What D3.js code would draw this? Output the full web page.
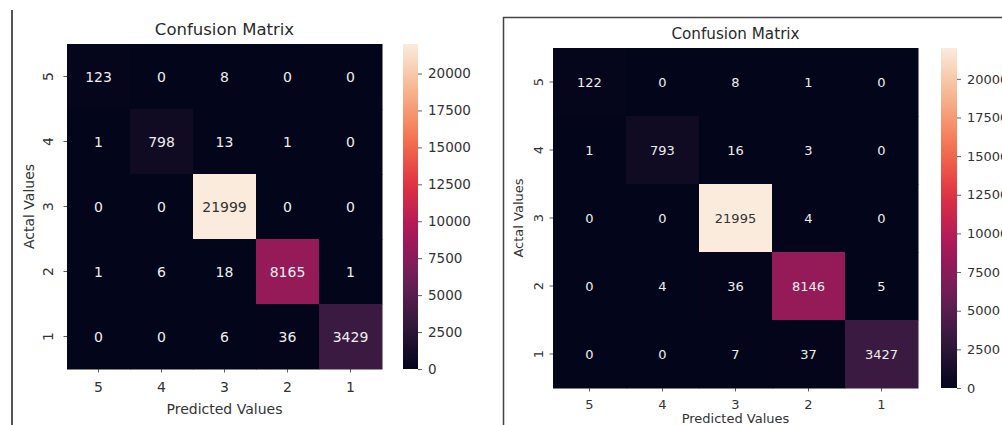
<!DOCTYPE html>
<html>
<head>
<meta charset="utf-8">
<script src="https://cdn.jsdelivr.net/npm/d3@7"></script>
<style>
  html, body { margin: 0; padding: 0; background: #fff; }
  svg { display: block; font-family: "DejaVu Sans", sans-serif; }
</style>
</head>
<body>
<svg id="chart" width="1002" height="425"></svg>
<script>
// Class labels, in display order (rows = actual, columns = predicted)
const classes = ["5", "4", "3", "2", "1"];

// Confusion matrix counts, first model
const matrixA = [
  [123, 0, 8, 0, 0],
  [1, 798, 13, 1, 0],
  [0, 0, 21999, 0, 0],
  [1, 6, 18, 8165, 1],
  [0, 0, 6, 36, 3429]
];

// Confusion matrix counts, second model
const matrixB = [
  [122, 0, 8, 1, 0],
  [1, 793, 16, 3, 0],
  [0, 0, 21995, 4, 0],
  [0, 4, 36, 8146, 5],
  [0, 0, 7, 37, 3427]
];

const colorbarTicks = [0, 2500, 5000, 7500, 10000, 12500, 15000, 17500, 20000];

const titleText = "Confusion Matrix";
const xLabelText = "Predicted Values";
const yLabelText = "Actal Values";

// "rocket" sequential colormap stops
const rocketStops = ["#03051a", "#35193e", "#701f57", "#ad1759", "#e13342", "#f37651", "#f6b48f", "#faebdd"];
const rocket = d3.piecewise(d3.interpolateRgb, rocketStops);

const svg = d3.select("#chart");

// Panel frames
svg.append("line")
  .attr("x1", 12).attr("x2", 12).attr("y1", 10).attr("y2", 425)
  .attr("stroke", "#555").attr("stroke-width", 2);
svg.append("path")
  .attr("d", "M503.5,425 V17.5 H1002")
  .attr("fill", "none").attr("stroke", "#444").attr("stroke-width", 1.5);

const panels = [
  {
    id: "a", data: matrixA,
    x0: 67, x1: 382, y0: 44, y1: 369,
    cbX: 403, cbW: 15, cbTop: 44, cbBottom: 369,
    font: 14, cbFont: 13.5, titleSize: 16.5, titleY: 35,
    xTickY: 392, xLabelY: 414, yTickX: 53, yLabelX: 34
  },
  {
    id: "b", data: matrixB,
    x0: 553, x1: 918, y0: 48, y1: 388,
    cbX: 941, cbW: 16, cbTop: 48, cbBottom: 388,
    font: 13, cbFont: 13, titleSize: 15.2, titleY: 39,
    xTickY: 409, xLabelY: 423, yTickX: 543, yLabelX: 523
  }
];

panels.forEach(p => {
  const g = svg.append("g");
  const maxVal = d3.max(p.data.flat());
  const minVal = d3.min(p.data.flat());
  const color = d3.scaleSequential(rocket).domain([minVal, maxVal]);

  const x = d3.scaleBand().domain(classes).range([p.x0, p.x1]);
  const y = d3.scaleBand().domain(classes).range([p.y0, p.y1]);

  const cells = [];
  p.data.forEach((row, i) => row.forEach((v, j) => cells.push({ r: classes[i], c: classes[j], v })));

  g.selectAll("rect.cell").data(cells).join("rect")
    .attr("class", "cell")
    .attr("x", d => x(d.c))
    .attr("y", d => y(d.r))
    .attr("width", x.bandwidth() + 0.5)
    .attr("height", y.bandwidth() + 0.5)
    .attr("fill", d => color(d.v));

  g.selectAll("text.val").data(cells).join("text")
    .attr("class", "val")
    .attr("x", d => x(d.c) + x.bandwidth() / 2)
    .attr("y", d => y(d.r) + y.bandwidth() / 2)
    .attr("text-anchor", "middle")
    .attr("dominant-baseline", "central")
    .attr("font-size", p.font)
    .attr("fill", d => {
      const l = d3.hsl(color(d.v)).l;
      return l > 0.6 ? "#333" : "#eeeeee";
    })
    .text(d => d.v);

  // x ticks
  classes.forEach(c => {
    const cx = x(c) + x.bandwidth() / 2;
    g.append("line").attr("x1", cx).attr("x2", cx)
      .attr("y1", p.y1).attr("y2", p.y1 + 3.5)
      .attr("stroke", "#333").attr("stroke-width", 0.8);
    g.append("text").attr("x", cx).attr("y", p.xTickY)
      .attr("text-anchor", "middle").attr("font-size", p.font)
      .attr("fill", "#333").text(c);
  });

  // y ticks (labels rotated)
  classes.forEach(c => {
    const cy = y(c) + y.bandwidth() / 2;
    g.append("line").attr("x1", p.x0 - 3.5).attr("x2", p.x0)
      .attr("y1", cy).attr("y2", cy)
      .attr("stroke", "#333").attr("stroke-width", 0.8);
    g.append("text")
      .attr("transform", `translate(${p.yTickX},${cy}) rotate(-90)`)
      .attr("text-anchor", "middle")
      .attr("font-size", p.font)
      .attr("fill", "#333").text(c);
  });

  // title and axis labels
  g.append("text").attr("x", (p.x0 + p.x1) / 2).attr("y", p.titleY)
    .attr("text-anchor", "middle").attr("font-size", p.titleSize)
    .attr("fill", "#2a2a2a").text(titleText);
  g.append("text").attr("x", (p.x0 + p.x1) / 2).attr("y", p.xLabelY)
    .attr("text-anchor", "middle").attr("font-size", p.font)
    .attr("fill", "#333").text(xLabelText);
  g.append("text")
    .attr("transform", `translate(${p.yLabelX},${(p.y0 + p.y1) / 2}) rotate(-90)`)
    .attr("text-anchor", "middle").attr("font-size", p.font)
    .attr("fill", "#333").text(yLabelText);

  // colorbar
  const gradId = "grad-" + p.id;
  const grad = svg.append("defs").append("linearGradient")
    .attr("id", gradId).attr("x1", 0).attr("x2", 0).attr("y1", 1).attr("y2", 0);
  d3.range(0, 1.0001, 0.05).forEach(t => {
    grad.append("stop").attr("offset", t).attr("stop-color", rocket(t));
  });
  g.append("rect").attr("x", p.cbX).attr("y", p.cbTop)
    .attr("width", p.cbW).attr("height", p.cbBottom - p.cbTop)
    .attr("fill", `url(#${gradId})`);

  const cbScale = d3.scaleLinear().domain([minVal, maxVal]).range([p.cbBottom, p.cbTop]);
  const cbAxis = d3.axisRight(cbScale).tickValues(colorbarTicks).tickSize(4).tickPadding(6).tickFormat(d3.format("d"));
  const ax = g.append("g").attr("transform", `translate(${p.cbX + p.cbW},0)`).call(cbAxis);
  ax.select(".domain").remove();
  ax.selectAll("line").attr("stroke", "#333").attr("stroke-width", 0.8);
  ax.selectAll("text").attr("font-size", p.cbFont).attr("fill", "#333")
    .attr("font-family", "DejaVu Sans, sans-serif");
});
</script>
</body>
</html>
